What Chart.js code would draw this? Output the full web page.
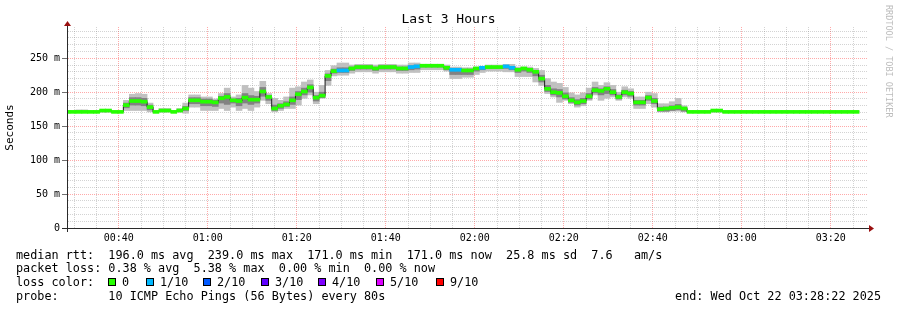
<!DOCTYPE html>
<html><head><meta charset="utf-8">
<script src="https://cdn.jsdelivr.net/npm/chart.js@4.4.1/dist/chart.umd.min.js"></script>
<style>html,body{margin:0;padding:0;background:#fff;}#wrap{width:897px;height:310px;}</style>
</head><body><div id="wrap"><canvas id="c" width="897" height="310"></canvas></div>
<script>
// ---------------- data ----------------
const chartTitle = 'Last 3 Hours';
const yAxisTitle = 'Seconds';
const startClock = '00:28:22';
const spanMinutes = 180;
const stepSeconds = 80;

// median rtt per 80 s step (ms)
const median = [
171,171,171,171,171,171,173,173,171,171,
181,187,187,186,178,171,173,173,171,173,
176,188,188,186,186,185,191,193,188,187,
192,189,189,201,193,176,180,182,188,197,
201,207,192,195,224,231,232,232,235,237,
237,237,235,237,237,237,235,235,237,238,
239,239,239,239,236,233,233,232,232,235,
236,237,237,237,238,236,233,235,233,230,
220,205,200,199,194,188,185,187,194,203,
202,205,200,193,200,198,185,185,192,187,
175,176,177,178,176,171,171,171,171,173,
173,171,171,171,171,171,171,171,171,171,
171,171,171,171,171,171,171,171,171,171,
171,171,171,171];
// lost pings out of 10 per step
const lossTenths = [
0,0,0,0,0,0,0,0,0,0, 0,0,0,0,0,0,0,0,0,0,
0,0,0,0,0,0,0,0,0,0, 0,0,0,0,0,0,0,0,0,0,
0,0,0,0,0,0,1,1,0,0, 0,0,0,0,0,0,0,0,1,1,
0,0,0,0,0,1,1,0,0,0, 1,0,0,0,1,1,0,0,0,0,
0,0,0,0,0,0,0,0,0,0, 0,0,0,0,0,0,0,0,0,0,
0,0,0,0,0,0,0,0,0,0, 0,0,0,0,0,0,0,0,0,0,
0,0,0,0,0,0,0,0,0,0, 0,0,0,0];
// smoke: fastest / slowest ping per step
const smokeLo = [
171,171,171,171,171,171,171,171,171,171,
173,173,173,173,171,171,171,171,171,171,
169,178,178,173,173,173,176,173,178,173,
176,173,178,188,183,171,173,176,176,181,
191,196,183,191,210,224,225,225,228,230,
230,230,228,230,230,230,228,228,229,229,
233,233,233,233,231,220,220,222,222,226,
229,231,231,231,230,230,223,223,223,215,
210,198,193,185,188,183,178,180,188,196,
188,191,193,188,193,191,176,176,183,178,
171,171,172,172,171,171,171,171,171,171,
171,171,171,171,171,171,171,171,171,171,
171,171,171,171,171,171,171,171,171,171,
171,171,171,171];
const smokeHi = [
171,171,174,174,171,171,174,174,171,171,
188,197,198,197,184,171,176,176,173,176,
184,196,196,193,193,190,198,206,193,196,
210,206,201,216,198,191,188,193,206,208,
215,218,200,210,232,239,243,243,240,241,
241,241,240,241,241,241,240,240,243,243,
241,241,241,241,240,237,237,236,236,237,
238,240,240,240,241,241,237,237,237,235,
232,220,215,213,207,199,196,199,206,215,
210,214,210,200,208,205,193,193,200,198,
183,183,186,191,180,171,171,171,171,173,
173,171,171,171,171,171,171,171,171,171,
171,171,171,171,171,171,171,171,171,171,
171,171,171,171];
// smoke: inner (denser) band per step
const coreLo = [
171,171,171,171,171,171,171,171,171,171,
177,181,181,180,174,171,171,171,171,171,
173,183,183,180,180,179,184,182,184,180,
184,182,184,194,188,173,176,179,182,189,
196,200,187,192,217,228,229,229,232,234,
234,234,232,234,234,234,232,232,233,234,
237,237,237,237,233,226,226,226,226,231,
233,235,235,235,235,233,229,231,229,224,
215,201,196,193,190,185,181,183,190,199,
196,198,196,190,196,194,181,181,188,183,
172,172,173,174,172,171,171,171,171,171,
171,171,171,171,171,171,171,171,171,171,
171,171,171,171,171,171,171,171,171,171,
171,171,171,171];
const coreHi = [
171,171,171,171,171,171,173,173,171,171,
184,192,192,191,181,171,173,173,171,173,
179,192,192,190,190,188,194,198,190,191,
198,195,194,207,195,181,183,186,193,201,
206,211,195,200,227,234,236,236,237,239,
239,239,237,239,239,239,237,237,239,240,
240,240,240,240,238,235,235,234,234,236,
237,238,238,238,239,238,235,236,235,232,
225,210,205,204,199,192,189,191,198,207,
205,208,204,196,203,201,188,188,195,191,
178,178,180,182,177,171,171,171,171,173,
173,171,171,171,171,171,171,171,171,171,
171,171,171,171,171,171,171,171,171,171,
171,171,171,171];

const xTickLabels = ['00:40','01:00','01:20','01:40','02:00','02:20','02:40','03:00','03:20'];
const yTickValues = [0, 50, 100, 150, 200, 250];
const yTickLabels = ['0', '50 m', '100 m', '150 m', '200 m', '250 m'];
const yMax = 296;

const lossLabels = ['0', '1/10', '2/10', '3/10', '4/10', '5/10', '9/10'];
const lossThresholds = [0, 1, 2, 3, 4, 5, 9];
const lossColors = ['#26ff00', '#00b8ff', '#0059ff', '#5e00ff', '#7e00ff', '#dd00ff', '#ff0000'];

const statsLines = [
  'median rtt:  196.0 ms avg  239.0 ms max  171.0 ms min  171.0 ms now  25.8 ms sd  7.6   am/s',
  'packet loss: 0.38 % avg  5.38 % max  0.00 % min  0.00 % now',
  'loss color:',
  'probe:       10 ICMP Echo Pings (56 Bytes) every 80s'
];
const endText = 'end: Wed Oct 22 03:28:22 2025';
const creditText = 'RRDTOOL / TOBI OETIKER';

// ---------------- styles ----------------
const MONO = '"DejaVu Sans Mono", "Liberation Mono", monospace';
const AXIS = '#2a2a2a';
const GRID = 'rgba(110,110,110,0.3)';
const MGRID = 'rgba(255,30,30,0.38)';
const ARROW = '#9a1010';
const SMOKE_OUTER = '#c0c0c0';
const SMOKE_INNER = '#828282';
const MEDIAN_LINE = '#202020';
const LINE_HALF = 2.2; // half thickness of coloured median line, in ms

// ---------------- helpers ----------------
const toMin = s => { const p = s.split(':').map(Number); return p[0] * 60 + p[1] + (p[2] || 0) / 60; };
const t0 = toMin(startClock);
const xs = median.map((_, k) => k * stepSeconds / 60);
const near = (a, b) => Math.abs(a - b) < 1e-6;

const xMajor = xTickLabels.map(l => toMin(l) - t0);
const xGrid = [];
for (let m = Math.ceil(t0 / 5) * 5; m <= t0 + spanMinutes; m += 5) xGrid.push(m - t0);
const yGrid = [];
for (let v = 0; v <= yMax; v += 10) yGrid.push(v);

const isMajorX = v => xMajor.some(m => near(m, v));
const isMajorY = v => yTickValues.some(m => near(m, v));
const lossColor = l => { let c = lossColors[0]; lossThresholds.forEach((t, i) => { if (l >= t) c = lossColors[i]; }); return c; };

const bandData = (lo, hi) => lo.map((v, k) => ({ x: xs[k], y: [v, hi[k]] }));

const barCommon = { type: 'bar', grouped: false, barPercentage: 1, categoryPercentage: 1, borderWidth: 0 };

const decor = {
  id: 'rrdDecor',
  afterDraw(chart) {
    const { ctx, chartArea: a } = chart;
    ctx.save();
    // title
    ctx.fillStyle = '#000';
    ctx.font = '13px ' + MONO;
    ctx.textAlign = 'center';
    ctx.textBaseline = 'middle';
    ctx.fillText(chartTitle, 448.5, 19.5);
    // axis extensions
    const yb = Math.round(a.bottom) + 0.5, xl = Math.round(a.left) + 0.5;
    ctx.strokeStyle = AXIS; ctx.lineWidth = 1;
    ctx.beginPath();
    ctx.moveTo(a.left - 5, yb); ctx.lineTo(a.right + 2, yb);
    ctx.moveTo(xl, a.bottom + 4); ctx.lineTo(xl, a.top - 4);
    ctx.stroke();
    // arrows
    ctx.fillStyle = ARROW;
    ctx.beginPath();
    ctx.moveTo(a.right + 1, yb - 3.5); ctx.lineTo(a.right + 6, yb); ctx.lineTo(a.right + 1, yb + 3.5); ctx.closePath(); ctx.fill();
    ctx.beginPath();
    ctx.moveTo(xl - 3.5, a.top - 1); ctx.lineTo(xl, a.top - 6); ctx.lineTo(xl + 3.5, a.top - 1); ctx.closePath(); ctx.fill();

    // legend text
    ctx.fillStyle = '#000';
    ctx.font = '11.8px ' + MONO;
    ctx.textBaseline = 'alphabetic';
    ctx.textAlign = 'left';
    const base = [258.5, 272.3, 286.1, 299.9];
    statsLines.forEach((s, i) => ctx.fillText(s, 16, base[i]));
    const boxX = [108, 146, 203, 261, 318, 376, 436];
    lossLabels.forEach((l, i) => {
      ctx.fillStyle = lossColors[i];
      ctx.fillRect(boxX[i], 278, 8, 8);
      ctx.strokeStyle = '#000'; ctx.lineWidth = 1;
      ctx.strokeRect(boxX[i] + 0.5, 278.5, 7, 7);
      ctx.fillStyle = '#000';
      ctx.fillText(l, boxX[i] + 14, base[2]);
    });
    ctx.textAlign = 'right';
    ctx.fillText(endText, 881, base[3]);

    // credit
    ctx.translate(888, 5);
    ctx.rotate(Math.PI / 2);
    ctx.font = '8.5px ' + MONO;
    ctx.fillStyle = '#bdbdbd';
    ctx.textAlign = 'left';
    ctx.textBaseline = 'middle';
    ctx.fillText(creditText, 0, 0);
    ctx.restore();
  }
};

new Chart(document.getElementById('c'), {
  type: 'bar',
  data: {
    datasets: [
      { ...barCommon, label: 'outer smoke', data: bandData(smokeLo, smokeHi), backgroundColor: SMOKE_OUTER, order: 4 },
      { ...barCommon, label: 'inner smoke', data: bandData(coreLo, coreHi), backgroundColor: SMOKE_INNER, order: 3 },
      { type: 'line', label: 'median', data: median.map((m, k) => ({ x: xs[k], y: m })), stepped: 'middle',
        borderColor: MEDIAN_LINE, borderWidth: 1, pointRadius: 0, fill: false, order: 2 },
      { ...barCommon, label: 'median loss colour', data: median.map((m, k) => ({ x: xs[k], y: [m - LINE_HALF, m + LINE_HALF] })),
        backgroundColor: lossTenths.map(lossColor), order: 1 }
    ]
  },
  options: {
    responsive: false,
    animation: false,
    events: [],
    layout: { padding: { left: 0, right: 29, top: 27, bottom: 62 } },
    plugins: {
      legend: { display: false },
      tooltip: { enabled: false },
      title: { display: false }
    },
    scales: {
      x: {
        type: 'linear', min: 0, max: spanMinutes, offset: false,
        grid: { offset: false, drawTicks: false, lineWidth: 1,
          color: c => (c.tick && isMajorX(c.tick.value)) ? MGRID : GRID },
        border: { display: true, color: AXIS, width: 1, dash: [1, 1] },
        ticks: { autoSkip: false, maxRotation: 0, padding: 4, color: '#000', font: { family: MONO, size: 10 },
          callback: v => { const i = xMajor.findIndex(m => near(m, v)); return i >= 0 ? xTickLabels[i] : ''; } },
        afterBuildTicks: s => { s.ticks = xGrid.map(v => ({ value: v })); },
        afterFit: s => { s.height = 20; }
      },
      y: {
        type: 'linear', min: 0, max: yMax,
        grid: { lineWidth: 1, tickLength: 5,
          color: c => (c.tick && isMajorY(c.tick.value)) ? MGRID : GRID,
          tickColor: c => (c.tick && isMajorY(c.tick.value)) ? '#707070' : 'rgba(0,0,0,0)' },
        border: { display: true, color: AXIS, width: 1, dash: [1, 1] },
        ticks: { autoSkip: false, padding: 2, color: '#000', font: { family: MONO, size: 10 },
          callback: v => { const i = yTickValues.findIndex(m => near(m, v)); return i >= 0 ? yTickLabels[i] : ''; } },
        afterBuildTicks: s => { s.ticks = yGrid.map(v => ({ value: v })); },
        afterFit: s => { s.width = 67; },
        title: { display: true, text: yAxisTitle, color: '#000', font: { family: MONO, size: 11 }, padding: { top: 4, bottom: 0 } }
      }
    }
  },
  plugins: [decor]
});
</script>
</body></html>
